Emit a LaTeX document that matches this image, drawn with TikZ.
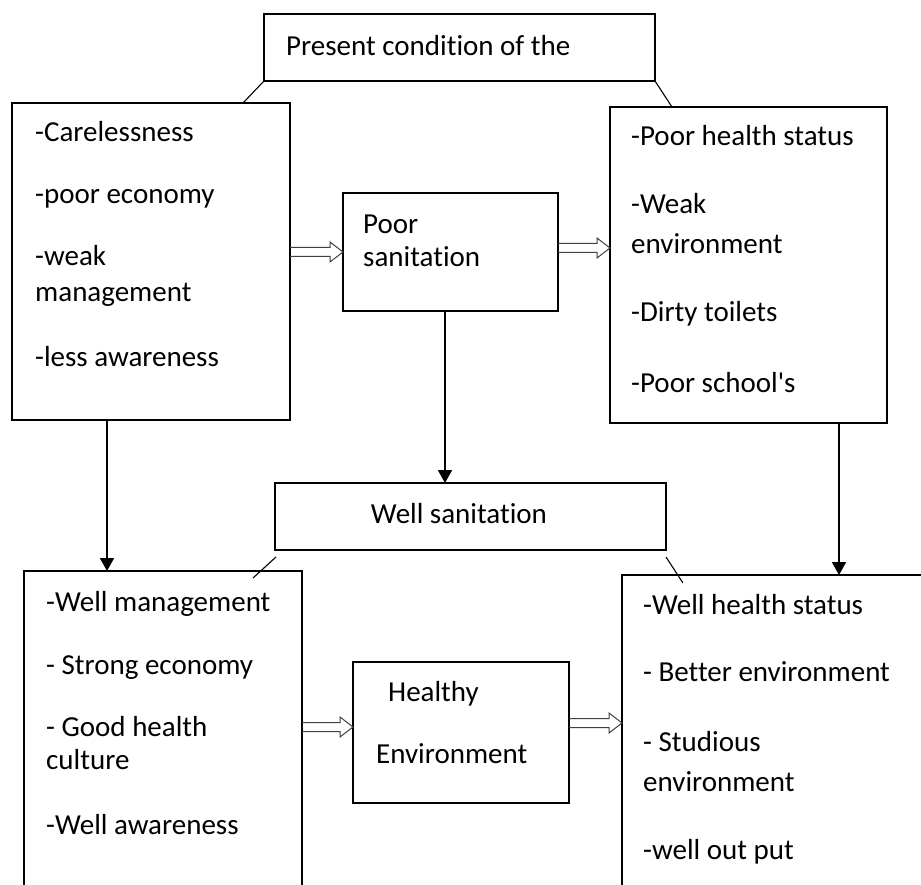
\documentclass[tikz,border=0pt]{standalone}
\usepackage{fontspec}
\setmainfont{Carlito}[Ligatures={NoCommon}]
\usetikzlibrary{arrows.meta,calc}
\tikzset{
  box/.style={draw=black, line width=1.3pt, rectangle, inner sep=0pt, outer sep=0pt},
  lbl/.style={anchor=base west, inner sep=0pt, font=\fontsize{29}{35}\selectfont},
  clbl/.style={anchor=base, inner sep=0pt, font=\fontsize{29}{35}\selectfont},
  arr/.style={line width=1.8pt, -{Triangle[length=13pt,width=14pt]}},
  diag/.style={line width=1.1pt},
  hollow/.style={draw=black!75, line width=1pt, line join=miter},
}
\newcommand\blockarr[2]{%
  \draw[hollow] ($(#1)+(0,-4.5)$) -- ($(#2)+(-13,-4.5)$) -- ($(#2)+(-13,-10)$) -- (#2)
    -- ($(#2)+(-13,10)$) -- ($(#2)+(-13,4.5)$) -- ($(#1)+(0,4.5)$);}
\begin{document}
\begin{tikzpicture}[x=1pt,y=-1pt]
\useasboundingbox (0,0) rectangle (921,885);
\clip (0,0) rectangle (921,885);
\fill[white] (0,0) rectangle (921,885);
% boxes
\node[box, minimum width=391pt, minimum height=67pt] (top) at (459.5,47.5) {};
\node[box, minimum width=278pt, minimum height=317pt] (lt) at (151,261.5) {};
\node[box, minimum width=277pt, minimum height=316pt] (rt) at (748.5,265) {};
\node[box, minimum width=215pt, minimum height=118pt] (ps) at (450.5,252) {};
\node[box, minimum width=391pt, minimum height=67pt] (ws) at (470.5,516.5) {};
\node[box, minimum width=216pt, minimum height=141pt] (he) at (461,732.5) {};
\node[box, minimum width=278pt, minimum height=329pt] (lb) at (163,735.5) {};
\node[box, minimum width=318pt, minimum height=325pt] (rb) at (781,737.5) {};
% texts
\node[lbl] (t0) at (286,56) {Present condition of the};
\node[lbl] (l1) at (35,142) {-Carelessness};
\node[lbl] (l2) at (35,204) {-poor economy};
\node[lbl] (l3) at (35,266) {-weak};
\node[lbl] (l4) at (35,302) {management};
\node[lbl] (l5) at (35,366) {-less awareness};
\node[lbl] (p1) at (363,234) {Poor};
\node[lbl] (p2) at (363,267) {sanitation};
\node[lbl] (r1) at (631,146) {-Poor health status};
\node[lbl] (r2) at (631,214) {-Weak};
\node[lbl] (r3) at (631,254) {environment};
\node[lbl] (r4) at (631,322) {-Dirty toilets};
\node[lbl] (r5) at (631,392) {-Poor school\textquotesingle s};
\node[clbl] (w1) at (459,523) {Well sanitation};
\node[lbl] (b1) at (46,611) {-Well management};
\node[lbl] (b2) at (46,674) {- Strong economy};
\node[lbl] (b3) at (46,736) {- Good health};
\node[lbl] (b4) at (46,769) {culture};
\node[lbl] (b5) at (46,834) {-Well awareness};
\node[lbl] (h1) at (388,701) {Healthy};
\node[lbl] (h2) at (376,763) {Environment};
\node[lbl] (c1) at (643,614) {-Well health status};
\node[lbl] (c2) at (643,681) {- Better environment};
\node[lbl] (c3) at (643,751) {- Studious};
\node[lbl] (c4) at (643,791) {environment};
\node[lbl] (c5) at (643,859) {-well out put};
% diagonal ties
\draw[diag] (top.south west) -- (lt.north -| 243,0);
\draw[diag] (top.south east) -- (rt.north -| 672,0);
\coordinate (wsl) at ($(ws.south west)+(1,7)$);
\coordinate (wsr) at ($(ws.south east)+(0,7)$);
\coordinate (lbd) at (253,578);
\coordinate (rbd) at (683,583);
\draw[diag] (wsl) -- (lbd);
\draw[diag] (wsr) -- (rbd);
% vertical arrows
\draw[arr] (lt.south -| 107,0) -- (lb.north -| 107,0);
\draw[arr] (ps.south -| 445,0) -- (ws.north -| 445,0);
\draw[arr] (rt.south -| 839,0) -- (rb.north -| 839,0);
% block arrows
\coordinate (a1) at (lt.east |- 0,252);
\coordinate (a2) at (ps.west |- 0,252);
\coordinate (a3) at (ps.east |- 0,248);
\coordinate (a4) at (rt.west |- 0,248);
\coordinate (a5) at (lb.east |- 0,727);
\coordinate (a6) at (he.west |- 0,727);
\coordinate (a7) at (he.east |- 0,723);
\coordinate (a8) at (rb.west |- 0,723);
\blockarr{a1}{a2}
\blockarr{a3}{a4}
\blockarr{a5}{a6}
\blockarr{a7}{a8}
\end{tikzpicture}
\end{document}
